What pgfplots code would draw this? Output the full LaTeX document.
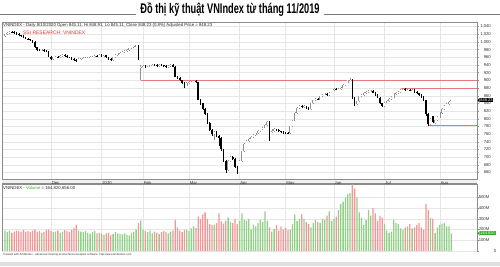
\documentclass[border=0pt]{standalone}
\usepackage{pgfplots}
\usepackage{pgfplotstable}
\pgfplotsset{compat=1.18}
\usepackage{fontspec}
\setmainfont{Liberation Sans}
\definecolor{upg}{RGB}{145,208,135}
\definecolor{dnr}{RGB}{242,150,150}
\definecolor{rline}{RGB}{230,120,120}
\definecolor{gridc}{RGB}{230,230,230}
\definecolor{framec}{RGB}{140,140,140}
\definecolor{ssired}{RGB}{228,50,50}
\definecolor{volgreen}{RGB}{50,170,50}
\definecolor{hollow}{RGB}{145,145,145}
\definecolor{titleline}{RGB}{120,120,120}

\pgfplotstableread{
i o h l c v
0 1016 1022 1014 1020 190
1 1020 1026 1018 1024 175
2 1024 1029 1022 1027 185
3 1027 1029 1024 1026 170
4 1026 1028 1022 1024 180
5 1024 1026 1019 1021 190
6 1021 1023 1015 1017 185
7 1017 1019 1013 1015 175
8 1015 1017 1010 1012 195
9 1012 1014 1007 1009 180
10 1009 1011 1005 1007 185
11 1007 1009 1002 1004 175
12 1004 1006 998 1000 190
13 1000 1002 984 986 200
14 986 988 977 979 180
15 979 982 976 978 185
16 978 982 976 980 170
17 980 982 975 977 175
18 977 979 973 975 195
19 975 977 960 962 200
20 962 964 952 955 185
21 955 962 953 960 175
22 960 964 958 962 180
23 962 964 959 961 190
24 961 966 959 964 170
25 964 968 962 966 180
26 966 968 961 963 195
27 963 965 958 960 185
28 960 962 957 959 175
29 959 961 954 956 200
30 956 958 951 953 215
31 953 955 949 951 245
32 951 957 950 955 190
33 955 959 953 957 180
34 957 960 955 958 175
35 958 961 956 959 185
36 959 962 957 960 170
37 960 963 958 961 160
38 961 964 959 962 175
39 962 966 960 964 185
40 964 966 960 962 165
41 962 968 961 966 170
42 966 968 961 963 160
43 963 967 961 965 150
44 965 967 958 960 165
45 960 962 953 955 170
46 955 957 950 952 145
47 952 962 951 960 160
48 960 968 958 966 175
49 966 972 964 970 165
50 970 974 968 972 160
51 972 976 970 974 155
52 974 979 972 977 165
53 977 981 975 979 150
54 979 985 977 983 145
55 983 988 981 986 170
56 986 990 984 988 180
57 988 993 986 991 200
58 991 992 953 955 260
59 932 940 902 936 285
60 936 941 934 938 200
61 938 940 931 933 185
62 933 938 931 936 175
63 936 941 934 939 190
64 939 943 937 941 165
65 941 943 938 940 180
66 940 942 936 938 170
67 938 942 936 940 160
68 940 942 937 939 175
69 939 941 935 937 185
70 937 939 933 935 175
71 935 939 933 937 165
72 937 942 935 940 180
73 940 942 934 936 190
74 936 937 908 910 290
75 910 912 903 905 220
76 905 908 898 900 190
77 900 902 891 893 175
78 893 895 880 886 195
79 886 895 884 893 200
80 893 898 891 896 185
81 896 899 894 897 210
82 897 901 895 899 230
83 899 901 894 896 215
84 896 897 848 850 320
85 850 852 836 840 300
86 840 842 822 825 340
87 825 827 809 812 360
88 812 814 787 790 300
89 790 792 767 770 250
90 770 772 756 760 240
91 760 768 745 765 245
92 765 767 752 755 260
93 755 758 729 750 350
94 750 752 717 720 275
95 720 722 687 690 255
96 690 692 659 666 280
97 666 693 664 690 310
98 690 704 688 700 270
99 700 702 692 695 260
100 695 697 672 675 300
101 675 678 655 662 250
102 662 692 660 690 280
103 690 717 688 715 350
104 715 737 713 735 290
105 735 745 733 742 280
106 742 750 740 748 300
107 748 755 746 753 200
108 753 760 751 758 245
109 758 764 756 762 230
110 762 770 760 768 260
111 768 774 766 772 290
112 772 779 770 777 270
113 777 785 775 783 370
114 783 794 781 792 280
115 792 793 743 768 220
116 766 772 763 768 180
117 768 775 766 772 205
118 772 774 767 770 240
119 770 772 765 767 190
120 767 769 764 766 230
121 766 768 761 764 200
122 764 766 760 763 215
123 763 765 759 762 195
124 762 782 760 780 200
125 780 797 778 795 250
126 795 817 793 815 340
127 815 830 813 828 280
128 828 836 826 833 300
129 833 835 827 830 340
130 830 835 828 832 300
131 832 834 826 828 270
132 828 830 823 826 250
133 826 842 824 840 220
134 840 850 838 848 260
135 848 854 846 852 290
136 852 854 848 850 270
137 850 860 848 858 260
138 858 865 856 863 300
139 863 867 861 865 290
140 865 867 860 862 330
141 862 870 860 868 370
142 868 876 866 874 280
143 874 879 872 877 300
144 877 879 874 876 320
145 876 880 874 878 380
146 878 883 876 881 440
147 881 890 879 888 460
148 888 897 886 895 500
149 895 902 893 900 530
150 900 905 898 902 540
151 902 903 852 855 620
152 855 857 833 838 580
153 838 847 836 845 500
154 845 860 843 858 360
155 858 864 856 862 310
156 862 869 860 867 240
157 867 872 865 870 290
158 870 874 868 872 380
159 872 875 869 872 330
160 872 874 866 868 400
161 868 870 860 862 350
162 862 864 853 855 280
163 855 857 838 840 330
164 840 842 831 833 310
165 833 844 831 842 250
166 842 848 840 846 190
167 846 853 844 851 170
168 851 858 849 856 180
169 856 866 854 864 290
170 864 869 862 867 260
171 867 872 865 870 250
172 870 878 868 876 210
173 876 880 874 878 200
174 878 880 872 874 220
175 874 878 872 876 230
176 876 878 871 873 250
177 873 877 871 875 210
178 875 877 868 870 220
179 870 872 864 866 240
180 866 868 860 862 260
181 862 864 855 857 220
182 857 859 846 848 200
183 848 850 808 812 440
184 812 814 780 785 380
185 785 803 783 800 310
186 806 808 789 792 300
187 790 798 786 796 170
188 796 806 794 804 220
189 804 817 802 815 240
190 815 827 813 825 250
191 825 836 823 834 260
192 834 840 832 838 230
193 838 845 836 843 230
194 845.11 848.91 845.11 848.23 164.82
}\px

\pgfplotsset{
  panel/.style={
    scale only axis, width=475pt, xmin=-1.3, xmax=205.2,
    axis line style={framec, line width=0.5pt},
    xtick={20,42,60,80,102,122,143,165,189},
    xmajorgrids, ymajorgrids,
    grid style={gridc, line width=0.4pt},
    ytick pos=right, yticklabel pos=right, xtick pos=bottom,
    x tick style={draw=none},
    y tick style={framec, line width=0.4pt},
    tick align=outside, major tick length=1.5pt,
    clip=false,
    /pgf/number format/assume math mode=true,
  },
  candle/.style 2 args={draw=none, mark=none, forget plot,
    error bars/y dir=plus, error bars/y explicit, error bars/error mark=none,
    error bars/error bar style={draw=#1, solid, line width=#2}},
}

\begin{document}
\begin{tikzpicture}
\useasboundingbox (0pt,0pt) rectangle (500pt,266pt);
% title
\draw[titleline, line width=0.9pt] (0pt,251.7pt) -- (136pt,251.7pt);
\draw[titleline, line width=0.9pt] (324pt,251.7pt) -- (500pt,251.7pt);
\node[inner sep=0pt, anchor=center] at (230pt,256pt)
  {\scalebox{0.66}[1]{\fontsize{14}{14}\selectfont\bfseries Đồ thị kỹ thuật VNIndex từ tháng 11/2019}};
% month strip
\fill[black!6] (2pt,82pt) rectangle (477pt,87pt);
\draw[framec, line width=0.5pt] (2pt,82.6pt) -- (477pt,82.6pt);
\draw[framec, line width=0.5pt] (2pt,82pt) -- (477pt,82pt);

\begin{axis}[panel, at={(2pt,87pt)}, anchor=south west, height=157pt,
  ymin=643, ymax=1052, ytick={660,680,...,1040},
  scaled y ticks=false,
  yticklabel style={anchor=east, xshift=12.5pt, inner sep=0pt,
    font=\fontsize{4.2}{4.2}\selectfont, text=black!80,
    /pgf/number format/.cd, fixed, 1000 sep={,}},
  xticklabels={Dec,2020,Feb,Mar,Apr,May,Jun,Jul,Aug},
  xticklabel style={anchor=north west, inner sep=0pt, xshift=0.6pt, yshift=-0.9pt,
    font=\fontsize{4.2}{4.2}\selectfont, text=black!80}]
% resistance / support lines
\addplot[rline, line width=0.9pt, mark=none] coordinates {(59,900) (205.2,900)};
\addplot[rline, line width=0.9pt, mark=none] coordinates {(172,878) (205.2,878)};
\addplot[rline, line width=0.9pt, mark=none] coordinates {(184,783) (205.2,783)};
% wicks, rising days
\addplot[restrict expr to domain={\thisrow{c}-\thisrow{o}}{0:2000},
  candle={hollow}{0.45pt}]
  table[x=i, y=l, y error plus expr=\thisrow{h}-\thisrow{l}] {\px};
% wicks, falling days
\addplot[restrict expr to domain={\thisrow{o}-\thisrow{c}}{0.001:2000},
  candle={black}{0.45pt}]
  table[x=i, y=l, y error plus expr=\thisrow{h}-\thisrow{l}] {\px};
% hollow bodies
\addplot[restrict expr to domain={\thisrow{c}-\thisrow{o}}{0:2000},
  candle={hollow}{1.6pt}]
  table[x=i, y=o, y error plus expr=\thisrow{c}-\thisrow{o}] {\px};
\addplot[restrict expr to domain={\thisrow{c}-\thisrow{o}}{0:2000},
  candle={white}{0.6pt}]
  table[x=i, y=o, y error plus expr=\thisrow{c}-\thisrow{o}] {\px};
% filled bodies
\addplot[restrict expr to domain={\thisrow{o}-\thisrow{c}}{0.001:2000},
  candle={black}{1.6pt}]
  table[x=i, y=c, y error plus expr=\thisrow{o}-\thisrow{c}] {\px};
% texts
\node[anchor=west, inner sep=0pt, font=\fontsize{4.3}{4.3}\selectfont, text=black!85]
  at (rel axis cs:0.002,0.98) {VNINDEX - Daily 8/10/2020 Open 845.11, Hi 848.91, Lo 845.11, Close 848.23 (0.8\%) Adjusted Price = 848.23};
\node[anchor=west, inner sep=0pt, font=\fontsize{5}{5}\selectfont, text=ssired]
  at (rel axis cs:0.044,0.93) {SSI RESEARCH: VNINDEX};
% last price marker
\node[anchor=west, fill=black, text=white, inner sep=0.7pt, font=\fontsize{4}{4}\selectfont]
  (pl) at (axis cs:205.2,848.23) [xshift=2.5pt] {848.23};
\fill[black] (pl.north west) -- ([xshift=-2pt]pl.west) -- (pl.south west) -- cycle;
\end{axis}

\begin{axis}[panel, at={(2pt,15pt)}, anchor=south west, height=67pt,
  ymin=0, ymax=624, ytick={100,200,...,500},
  yticklabels={100M,200M,300M,400M,500M},
  extra y ticks={0}, extra y tick labels={0},
  extra y tick style={yticklabel style={xshift=7pt}},
  yticklabel style={anchor=east, xshift=11pt, inner sep=0pt,
    font=\fontsize{4.2}{4.2}\selectfont, text=black!80},
  xticklabels={}]
\addplot[ybar, bar width=1.3pt, bar shift=0pt, fill=upg, draw=none, mark=none,
  restrict expr to domain={\thisrow{c}-\thisrow{o}}{0:2000}]
  table[x=i, y=v] {\px};
\addplot[ybar, bar width=1.3pt, bar shift=0pt, fill=dnr, draw=none, mark=none,
  restrict expr to domain={\thisrow{o}-\thisrow{c}}{0.001:2000}]
  table[x=i, y=v] {\px};
\node[anchor=west, inner sep=0pt, font=\fontsize{4.3}{4.3}\selectfont, text=black!85]
  at (rel axis cs:0.002,0.935) {VNINDEX - \textcolor{volgreen}{Volume} = 164,820,656.00};
\node[anchor=west, fill=volgreen, text=white, inner sep=0.7pt, font=\fontsize{4}{4}\selectfont]
  (vl) at (axis cs:205.2,164.82) [xshift=2.5pt] {164.820};
\fill[volgreen] (vl.north west) -- ([xshift=-2pt]vl.west) -- (vl.south west) -- cycle;
\end{axis}

\node[anchor=west, inner sep=0pt, font=\fontsize{2.8}{2.8}\selectfont, text=black!80]
  at (3pt,11pt) {Created with AmiBroker - advanced charting and technical analysis software. http://www.amibroker.com};
\fill[black!12] (0pt,0pt) rectangle (500pt,4pt);
\end{tikzpicture}
\end{document}
